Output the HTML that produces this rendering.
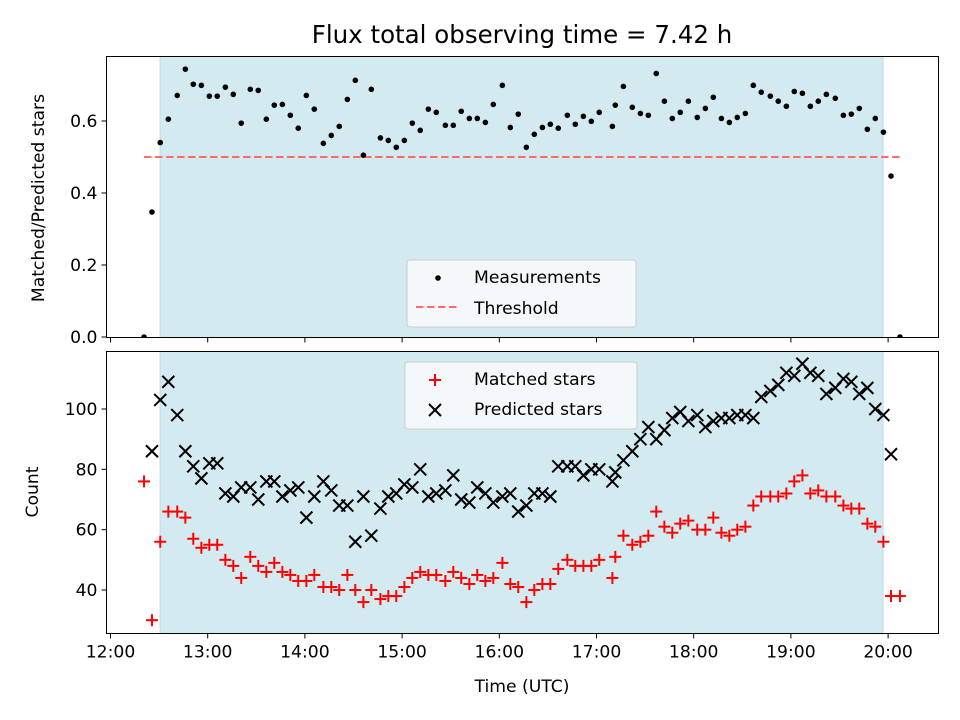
<!DOCTYPE html>
<html><head><meta charset="utf-8"><style>
body{margin:0;background:#fff;}
svg{display:block;font-family:"DejaVu Sans","Liberation Sans",sans-serif;}
</style></head><body>
<svg id="fig" width="960" height="720" viewBox="0 0 960 720" xmlns="http://www.w3.org/2000/svg">
<rect width="960" height="720" fill="#fff"/>
<text x="522" y="43" font-size="24.5" text-anchor="middle" fill="#000">Flux total observing time = 7.42 h</text>
<g id="gTop"></g>
<g id="gBot"></g>
<text transform="translate(44,198) rotate(-90)" font-size="17.2" text-anchor="middle">Matched/Predicted stars</text>
<text transform="translate(38,492) rotate(-90)" font-size="17.2" text-anchor="middle">Count</text>
<text x="522" y="692" font-size="17.2" text-anchor="middle">Time (UTC)</text>
</svg>
<script>
// minutes after 12:00 UTC
const times=[20.7,25.6,30.7,35.7,41.2,46.2,51.1,56.1,61.0,65.9,70.9,75.8,80.7,86.3,91.2,96.2,101.1,106.1,111.0,115.9,120.9,125.8,131.4,136.3,141.2,146.2,151.1,156.1,161.0,166.6,171.5,176.4,181.4,186.3,191.2,196.2,201.1,206.7,211.6,216.5,221.5,226.4,231.4,236.3,241.9,246.8,251.7,256.7,261.6,266.6,271.5,276.4,282.0,286.9,291.9,296.8,301.7,309.8,311.6,316.6,322.1,327.1,332.0,336.9,341.9,346.8,351.7,356.7,362.2,367.2,372.1,377.1,382.0,386.9,391.9,396.8,401.7,407.3,412.2,417.2,422.1,427.1,432.0,436.9,441.9,447.4,452.4,457.3,462.2,467.2,472.1,477.1,481.8,487.3];
const ratio=[0.0,0.347,0.54,0.605,0.671,0.744,0.702,0.699,0.669,0.669,0.694,0.674,0.594,0.688,0.685,0.605,0.644,0.646,0.616,0.58,0.671,0.633,0.538,0.56,0.585,0.66,0.713,0.505,0.688,0.553,0.546,0.527,0.546,0.594,0.574,0.633,0.624,0.588,0.588,0.627,0.607,0.607,0.596,0.646,0.699,0.582,0.619,0.527,0.563,0.582,0.591,0.58,0.616,0.591,0.613,0.599,0.624,0.585,0.644,0.696,0.638,0.621,0.616,0.732,0.655,0.607,0.624,0.655,0.61,0.635,0.666,0.607,0.596,0.61,0.621,0.699,0.68,0.669,0.655,0.641,0.682,0.677,0.641,0.655,0.674,0.663,0.616,0.619,0.635,0.577,0.607,0.569,0.447,0.0];
const matched=[76,30,56,66,66,64,57,54,55,55,50,48,44,51,48,46,49,46,45,43,43,45,41,41,40,45,40,36,40,37,38,38,41,44,46,45,45,43,46,44,42,45,43,44,49,42,41,36,40,42,42,47,50,48,48,48,50,44,51,58,55,56,58,66,61,59,62,63,60,60,64,59,58,60,61,68,71,71,71,72,76,78,72,73,71,71,68,67,67,62,61,56,38,38];
const predicted=[null,86,103,109,98,86,81,77,82,82,72,71,74,74,70,76,76,71,73,74,64,71,76,73,68,68,56,71,58,67,71,72,75,74,80,71,72,73,78,70,69,74,72,69,71,72,66,68,72,72,71,81,81,81,78,80,80,76,79,83,86,90,94,90,93,97,99,96,98,94,96,97,97,98,98,97,104,106,108,112,111,115,112,111,105,107,110,109,105,107,100,98,85,null];
const threshold=0.5;
const spanStart=30.6, spanEnd=476.9;
const xTickLabels=["12:00","13:00","14:00","15:00","16:00","17:00","18:00","19:00","20:00"];
const topTicks=[0.0,0.2,0.4,0.6];
const botTicks=[40,60,80,100];

const NS="http://www.w3.org/2000/svg";
const FS=17.2;
const L=106.5,R=938.5;
const TT=56.5,TB=337.5,BT=351.5,BB=633.5;
const xs=m=>110.5+m/60*97.2;
const yTop=v=>337-v*360;
const yBot=v=>409+(100-v)*3.017;
function mk(p,tag,attrs){const e=document.createElementNS(NS,tag);for(const k in attrs)e.setAttribute(k,attrs[k]);p.appendChild(e);return e;}

function panel(g,top,bot,name){
  const clipId='clip'+name;
  const cp=mk(g,'clipPath',{id:clipId});mk(cp,'rect',{x:L,y:top,width:R-L,height:bot-top});
  const sp=mk(g,'rect',{x:xs(spanStart),y:top,width:xs(spanEnd)-xs(spanStart),height:bot-top,fill:'#d4eaf1',stroke:'#bcdde9','stroke-width':1});
  
  
  const c=mk(g,'g',{'clip-path':'url(#'+clipId+')'});
  xTickLabels.forEach((t,i)=>{
    const x=xs(i*60);
    const tk=mk(g,'line',{x1:x,x2:x,y1:bot,y2:bot+5,stroke:'#000','stroke-width':1});
    
    
  });
  return c;
}
function frame(g,top,bot,name){
  const f=mk(g,'rect',{x:L,y:top,width:R-L,height:bot-top,fill:'none',stroke:'#000','stroke-width':1});
  
  
}
// TOP
const gT=document.getElementById('gTop');
const cT=panel(gT,TT,TB,'top');
const th=mk(cT,'line',{x1:xs(times[0]),x2:xs(times[times.length-1]),y1:yTop(threshold),y2:yTop(threshold),stroke:'#ff6b6b','stroke-width':2,'stroke-dasharray':'7.5,3.5'});


ratio.forEach((v,i)=>{
  const d=mk(cT,'circle',{cx:xs(times[i]),cy:yTop(v),r:2.8,fill:'#000'});
  
  
});
topTicks.forEach(v=>{
  const y=yTop(v);
  mk(gT,'line',{x1:L-5,x2:L,y1:y,y2:y,stroke:'#000'});
  const t=mk(gT,'text',{x:L-9,y:y+6,'font-size':FS,'text-anchor':'end'});t.textContent=v.toFixed(1);
  
  
});
frame(gT,TT,TB,'top');
const lg=mk(gT,'g',{});


mk(lg,'rect',{x:407,y:260,width:229,height:67,rx:3,fill:'#f7fafc','fill-opacity':0.9,stroke:'#ccc'});
mk(lg,'circle',{cx:438,cy:278,r:2.8,fill:'#000'});
mk(lg,'line',{x1:416,x2:458,y1:307,y2:307,stroke:'#ff6b6b','stroke-width':2,'stroke-dasharray':'7.5,3.5'});
let t1=mk(lg,'text',{x:474,y:283,'font-size':FS});t1.textContent='Measurements';
let t2=mk(lg,'text',{x:474,y:314,'font-size':FS});t2.textContent='Threshold';

// BOTTOM
const gB=document.getElementById('gBot');
const cB=panel(gB,BT,BB,'bottom');
function plus(p,x,y){const g=mk(p,'g',{stroke:'#ff0000','stroke-width':2});mk(g,'line',{x1:x-6,x2:x+6,y1:y,y2:y});mk(g,'line',{x1:x,x2:x,y1:y-6,y2:y+6});return g;}
function cross(p,x,y){const g=mk(p,'g',{stroke:'#000','stroke-width':2});mk(g,'line',{x1:x-6,x2:x+6,y1:y-6,y2:y+6});mk(g,'line',{x1:x-6,x2:x+6,y1:y+6,y2:y-6});return g;}
matched.forEach((v,i)=>{
  const m=plus(cB,xs(times[i]),yBot(v));
  
  
});
predicted.forEach((v,i)=>{
  if(v==null)return;
  const m=cross(cB,xs(times[i]),yBot(v));
  
  
});
botTicks.forEach(v=>{
  const y=yBot(v);
  mk(gB,'line',{x1:L-5,x2:L,y1:y,y2:y,stroke:'#000'});
  const t=mk(gB,'text',{x:L-9,y:y+6,'font-size':FS,'text-anchor':'end'});t.textContent=v;
  
  
});
xTickLabels.forEach((s,i)=>{
  const t=mk(gB,'text',{x:xs(i*60),y:BB+24,'font-size':FS,'text-anchor':'middle'});t.textContent=s;
  
  
});
frame(gB,BT,BB,'bottom');
const lb=mk(gB,'g',{});


mk(lb,'rect',{x:405,y:362,width:232,height:67,rx:3,fill:'#f7fafc','fill-opacity':0.9,stroke:'#ccc'});
plus(lb,435,380);
cross(lb,435,410);
let t3=mk(lb,'text',{x:474,y:385,'font-size':FS});t3.textContent='Matched stars';
let t4=mk(lb,'text',{x:474,y:415,'font-size':FS});t4.textContent='Predicted stars';
</script>
</body></html>
